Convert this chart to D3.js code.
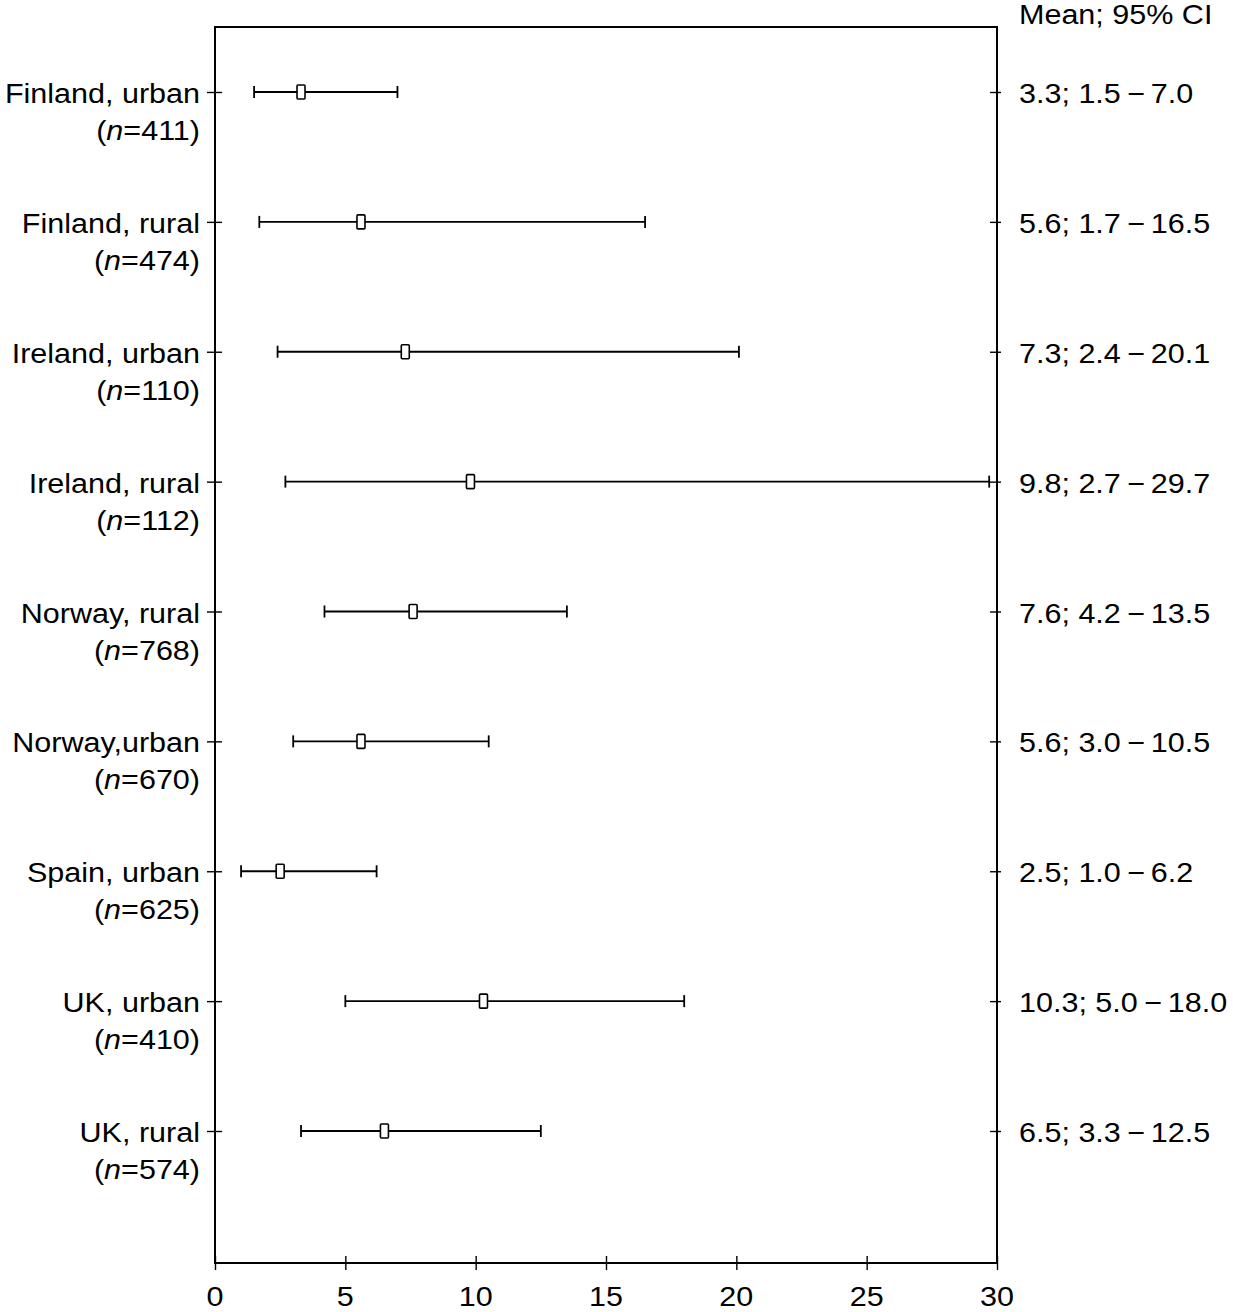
<!DOCTYPE html>
<html>
<head>
<meta charset="utf-8">
<script src="https://cdn.jsdelivr.net/npm/d3@7"></script>
<style>
  html, body { margin: 0; padding: 0; background: #fff; }
  svg text { font-family: "Liberation Sans", Arial, sans-serif; fill: #000; }
</style>
</head>
<body>
<svg id="chart" width="1233" height="1312"></svg>
<script>
const categories = ["Finland, urban", "Finland, rural", "Ireland, urban", "Ireland, rural",
  "Norway, rural", "Norway,urban", "Spain, urban", "UK, urban", "UK, rural"];
const sampleSizes = [411, 474, 110, 112, 768, 670, 625, 410, 574];
const means = [3.3, 5.6, 7.3, 9.8, 7.6, 5.6, 2.5, 10.3, 6.5];
const ciLow = [1.5, 1.7, 2.4, 2.7, 4.2, 3.0, 1.0, 5.0, 3.3];
const ciHigh = [7.0, 16.5, 20.1, 29.7, 13.5, 10.5, 6.2, 18.0, 12.5];
const xTicks = [0, 5, 10, 15, 20, 25, 30];
const rightHeader = "Mean; 95% CI";

(function () {
const data = categories.map((c, i) => ({
  cat: c, n: sampleSizes[i], mean: means[i], lo: ciLow[i], hi: ciHigh[i]
}));

const svg = d3.select("#chart");
const mLeft = 215, mRight = 997, mTop = 27, mBottom = 1263;
const fs = 27.5, sx = 1.11;

const x = d3.scaleLinear().domain([0, 30]).range([mLeft, mRight]);
const y = d3.scalePoint().domain(categories).range([92, 1131]);

// frame
svg.append("rect").attr("x", mLeft).attr("y", mTop)
  .attr("width", mRight - mLeft).attr("height", mBottom - mTop)
  .attr("fill", "none").attr("stroke", "#000").attr("stroke-width", 2);

// bottom axis
const xAxis = svg.append("g").attr("transform", `translate(0,${mBottom})`)
  .call(d3.axisBottom(x).tickValues(xTicks).tickSize(7).tickFormat(""));
xAxis.select(".domain").remove();
xAxis.selectAll(".tick line").attr("y1", -7).attr("stroke", "#000").attr("stroke-width", 1.4);
xTicks.forEach(t => {
  svg.append("text")
    .attr("transform", `translate(${x(t)},${mBottom + 43}) scale(${sx},1)`)
    .attr("text-anchor", "middle").attr("font-size", fs).text(t);
});

// left axis ticks
const yAxisL = svg.append("g").attr("transform", `translate(${mLeft},0)`)
  .call(d3.axisLeft(y).tickSize(8).tickFormat(""));
yAxisL.select(".domain").remove();
yAxisL.selectAll(".tick line").attr("x2", 7).attr("x1", -8).attr("stroke", "#000").attr("stroke-width", 1.4);

// right axis ticks
const yAxisR = svg.append("g").attr("transform", `translate(${mRight},0)`)
  .call(d3.axisRight(y).tickSize(4).tickFormat(""));
yAxisR.select(".domain").remove();
yAxisR.selectAll(".tick line").attr("x1", -7).attr("x2", 4).attr("stroke", "#000").attr("stroke-width", 1.4);

// left labels
data.forEach(d => {
  const yy = y(d.cat);
  svg.append("text")
    .attr("transform", `translate(200,${yy + 11}) scale(${sx},1)`)
    .attr("text-anchor", "end").attr("font-size", fs).text(d.cat);
  const t2 = svg.append("text")
    .attr("transform", `translate(200,${yy + 48}) scale(${sx},1)`)
    .attr("text-anchor", "end").attr("font-size", fs);
  t2.append("tspan").text("(");
  t2.append("tspan").attr("font-style", "italic").text("n");
  t2.append("tspan").text("=" + d.n + ")");
});

// right labels
svg.append("text")
  .attr("transform", `translate(1019,24) scale(${sx},1)`)
  .attr("font-size", fs).text(rightHeader);
data.forEach(d => {
  svg.append("text")
    .attr("transform", `translate(1019,${y(d.cat) + 11}) scale(${sx},1)`)
    .attr("font-size", fs)
    .text(`${d.mean.toFixed(1)}; ${d.lo.toFixed(1)}\u2009\u2212\u2009${d.hi.toFixed(1)}`);
});

// error bars
const g = svg.append("g").attr("stroke", "#000").attr("fill", "none");
const rows = g.selectAll("g.row").data(data).join("g").attr("class", "row");
rows.append("line")
  .attr("x1", d => x(d.lo)).attr("x2", d => x(d.hi))
  .attr("y1", d => y(d.cat)).attr("y2", d => y(d.cat))
  .attr("stroke-width", 1.8);
rows.append("line")
  .attr("x1", d => x(d.lo)).attr("x2", d => x(d.lo))
  .attr("y1", d => y(d.cat) - 6).attr("y2", d => y(d.cat) + 6)
  .attr("stroke-width", 1.8);
rows.append("line")
  .attr("x1", d => x(d.hi)).attr("x2", d => x(d.hi))
  .attr("y1", d => y(d.cat) - 6).attr("y2", d => y(d.cat) + 6)
  .attr("stroke-width", 1.8);
rows.append("rect")
  .attr("x", d => x(d.mean) - 4).attr("y", d => y(d.cat) - 7)
  .attr("width", 8).attr("height", 14).attr("rx", 1)
  .attr("fill", "#fff").attr("stroke-width", 1.6);
})();
</script>
</body>
</html>
